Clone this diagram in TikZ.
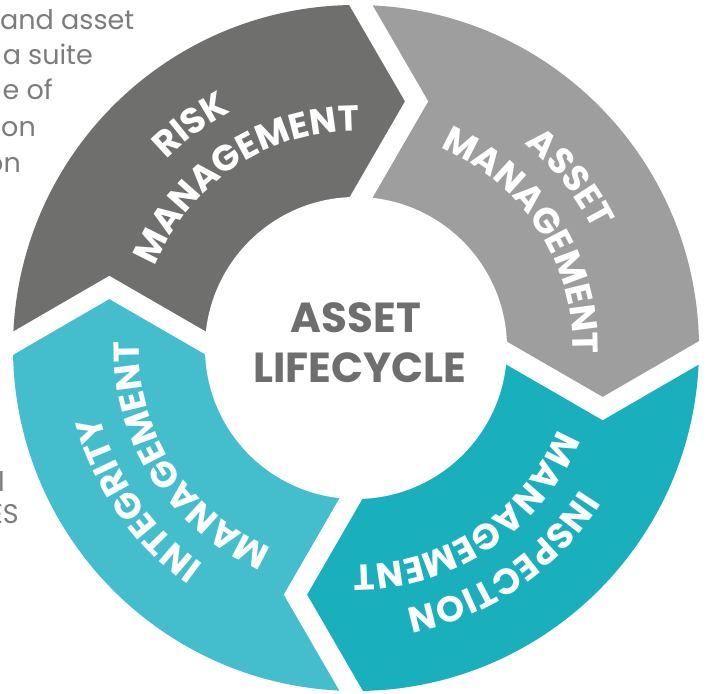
\documentclass[tikz,border=0pt]{standalone}
\usepackage{fontspec}
\setmainfont{Poppins}
\usetikzlibrary{decorations.text,calc}
\definecolor{riskc}{HTML}{6F6F6E}
\definecolor{assetc}{HTML}{9D9E9D}
\definecolor{inspc}{HTML}{1AAFBC}
\definecolor{integc}{HTML}{44BECC}
\definecolor{centgray}{HTML}{6E6E6E}
\definecolor{sidegray}{HTML}{7C7C7C}
\newcommand\ringfmt{\color{white}\bfseries\fontsize{36}{36}\selectfont}
\newcommand\ringlabel[3]{%
  \path[decorate,decoration={text along path,text align=center,
    text={|\ringfmt|#3}}]
    ($(c)+({#1+60}:#2pt)$) arc[start angle={#1+60}, end angle={#1-60}, radius=#2pt];}
\begin{document}
\begin{tikzpicture}[x=1pt,y=1pt,
  sidetxt/.style={text=sidegray, font=\fontsize{27}{27}\selectfont, inner sep=0pt, anchor=base east},
  centtxt/.style={text=centgray, font=\bfseries\fontsize{42}{42}\selectfont, inner sep=0pt, anchor=base},
  gapline/.style={white, line width=20pt, line join=miter}]
\useasboundingbox (0,0) rectangle (708,693);
\coordinate (c) at (356,345);
% segments: gap angle start, gap angle end, colour
\foreach \ga/\gb/\col in {179.2/89.2/riskc, 89.2/-0.8/assetc, -0.8/-90.8/inspc, -90.8/-180.8/integc}{
  \fill[\col] (c) -- ($(c)+({\ga-1}:150pt)$) -- ($(c)+({\ga-13}:254pt)$) -- ($(c)+(\ga:343pt)$)
    arc[start angle=\ga, end angle=\gb, radius=343pt]
    -- ($(c)+({\gb-13}:254pt)$) -- ($(c)+({\gb-1}:150pt)$) -- cycle;
}
% white chevron gaps
\foreach \g in {179.2, 89.2, -0.8, -90.8}{
  \coordinate (O) at ($(c)+(\g:343pt)$);
  \coordinate (T) at ($(c)+({\g-13}:254pt)$);
  \coordinate (I) at ($(c)+({\g-1}:150pt)$);
  \draw[gapline] ($(O)!-0.25!(T)$) -- (T) -- ($(I)!-0.25!(T)$);
}
\fill[white] (c) circle[radius=151pt];
% ring labels
\ringlabel{126.5}{267}{RISK}
\ringlabel{123.5}{217}{MANAGEMENT}
\ringlabel{38.4}{265}{ASSET}
\ringlabel{32.8}{217}{MANAGEMENT}
\ringlabel{-55.6}{265}{INSPECTION}
\ringlabel{-56.3}{217}{MANAGEMENT}
\ringlabel{-145.3}{265}{INTEGRITY}
\ringlabel{-147.3}{217}{MANAGEMENT}
% centre text
\node[centtxt] (c1) at (356,360) {ASSET};
\node[centtxt] (c2) at (360,310) {LIFECYCLE};
% side text fragments
\node[sidetxt, anchor=base west] (s1) at (0,663) {and asset};
\node[sidetxt] (s2) at (93,628) {a suite};
\node[sidetxt] (s3) at (53,593) {e of};
\node[sidetxt] (s4) at (36,556) {ion};
\node[sidetxt] (s5) at (21,520) {on};
\node[sidetxt] (s6) at (5,201) {l};
\node[sidetxt] (s7) at (19,170) {ES};
\end{tikzpicture}
\end{document}
